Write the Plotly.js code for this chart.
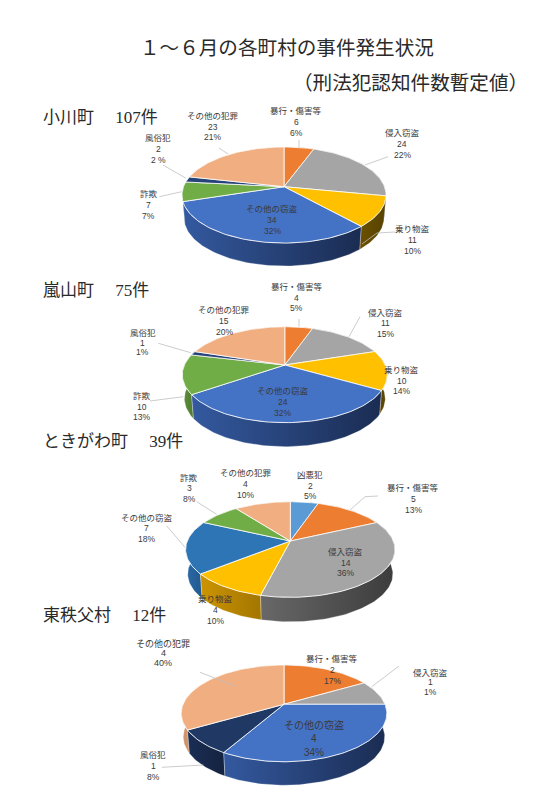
<!DOCTYPE html>
<html><head><meta charset="utf-8">
<script src="https://cdn.plot.ly/plotly-3.0.1.min.js"></script>
<style>html,body{margin:0;padding:0;background:#fff}#c{width:557px;height:800px}</style>
</head><body><div id="c"></div>
<script>
// ---- data ----
const ogawaCats = ['暴行・傷害等','侵入窃盗','乗り物盗','その他の窃盗','詐欺','風俗犯','その他の犯罪'];
const ogawaVals = [6,24,11,34,7,2,23];
const ogawaPct  = ['6%','22%','10%','32%','7%','2 %','21%'];

const ranzanCats = ['暴行・傷害等','侵入窃盗','乗り物盗','その他の窃盗','詐欺','風俗犯','その他の犯罪'];
const ranzanVals = [4,11,10,24,10,1,15];
const ranzanPct  = ['5%','15%','14%','32%','13%','1%','20%'];

const tokigawaCats = ['凶悪犯','暴行・傷害等','侵入窃盗','乗り物盗','その他の窃盗','詐欺','その他の犯罪'];
const tokigawaVals = [2,5,14,4,7,3,4];
const tokigawaPct  = ['5%','13%','36%','10%','18%','8%','10%'];

const higashiCats = ['暴行・傷害等','侵入窃盗','その他の窃盗','風俗犯','その他の犯罪'];
const higashiVals = [2,1,4,1,4];
const higashiPct  = ['17%','1%','34%','8%','40%'];

// ---- styles ----
const faceColor = {'凶悪犯':'#5B9BD5','暴行・傷害等':'#ED7D31','侵入窃盗':'#A5A5A5','乗り物盗':'#FFC000',
  'その他の窃盗':'#4472C4','詐欺':'#70AD47','風俗犯':'#264478','その他の犯罪':'#F1AF81'};
const wallColor = {'凶悪犯':['#3d6f9e','#3d6f9e'],'暴行・傷害等':['#b05a22','#b05a22'],'侵入窃盗':['#686868','#3c3c3c'],
  '乗り物盗':['#6a5000','#574200'],'その他の窃盗':['#34599f','#1a2c52'],'詐欺':['#5e9139','#4f7a30'],
  '風俗犯':['#1a2d55','#14233f'],'その他の犯罪':['#d0946a','#d0946a']};

// pie geometry on the page (perspective ellipse): apex, radii, tilt, thickness
const pies = [
 {cats:ogawaCats,vals:ogawaVals,pct:ogawaPct,px:284,py:186.7,A:100.5,B:46.6,k:.173,d:23,
  labels:[[296,122],[402,144],[412.7,240],[272,220],[148.7,205],[158,149],[212.7,126.7]],
  leaders:[[[299,140],[299,147.5]],[[388,156.7],[365,165]],[[395,232],[377,233],[362,244]],[[159.3,196.7],[181.7,191.7]],[[163,165],[186,178.3]],[[219,148],[228,154]]]},
 {cats:ranzanCats,vals:ranzanVals,pct:ranzanPct,px:284.8,py:365,A:100.4,B:46,k:.2022,d:24,
  labels:[[296.7,297.7],[385,323.3],[401.7,380.7],[282.7,402],[141.7,406.7],[142.7,342.7,9.4],[224,321]],
  leaders:[[[299,319],[299,326.7]],[[360,316.7],[349,336.7]],[[150,401],[183.3,396.7]],[[158.3,343.3],[190.7,352.7]]]},
 {cats:tokigawaCats,vals:tokigawaVals,pct:tokigawaPct,px:290.3,py:541,A:103,B:46.3,k:.178,d:24.5,
  walls:{'乗り物盗':['#cd9400','#a27600'],'その他の窃盗':['#2a6aa6','#21558a']},
  faces:{'その他の窃盗':'#2E75B6'},
  labels:[[310,485.7],[413.3,499],[345.7,562.7],[215.3,610],[146.7,528.3],[189,488.3],[245.7,484]],
  leaders:[[[378,496],[365,496.7],[350,510]],[[166.7,526],[185,547.3]],[[196.7,501.7],[216.7,514.3]]]},
 {cats:higashiCats,vals:higashiVals,pct:higashiPct,px:284,py:704.3,A:101,B:46.7,k:.187,d:23.5,
  faces:{'風俗犯':'#1F3864'},
  labels:[[332.3,670],[430,682.3,9.6],[314.3,738.5,13.5,10],[153,766,11],[163.3,653.3,10,9]],
  leaders:[[[399,666],[371.7,686.7]],[[161.7,767.3],[203.3,765]],[[200,672.3],[235,686]]]}
];

// section headings
const headingText = ['小川町　 107件','嵐山町　 75件','ときがわ町　 39件','東秩父村　 12件'];
const headingY = [117,290,441,615];

const titleMain = '１～６月の各町村の事件発生状況';
const titleSub = '（刑法犯認知件数暫定値）';

// ---- build ----
const serif = '"Liberation Serif","Noto Sans CJK JP",serif';
const sans = '"Liberation Sans","Noto Sans CJK JP",sans-serif';
const rad = Math.PI/180, SHRINK = .98;
function pt(p,deg){const s=Math.sin(deg*rad),c=Math.cos(deg*rad),w=1+p.k*c;return [p.px+p.A*s/w,p.py-p.B*c/w];}
function arc(p,a,b){const out=[],n=Math.max(2,Math.ceil((b-a)/1.5));for(let i=0;i<=n;i++)out.push(pt(p,a+(b-a)*i/n));return out;}

const walls=[],tops=[],annotations=[],shapes=[];
const textAnn=(x,y,t,size,font,color,anchor)=>annotations.push({xref:'x',yref:'y',x,y,text:t,showarrow:false,
  xanchor:anchor||'center',yanchor:'middle',font:{size,family:font,color:color||'#3a3a3a'}});

pies.forEach(p=>{
  const total=p.vals.reduce((a,b)=>a+b,0);let cum=0;const w=[];
  p.vals.forEach((v,i)=>{
    const a=cum/total*360,b=(cum+v)/total*360;cum+=v;
    const cat=p.cats[i],rim=arc(p,a,b);
    const wc=(p.walls&&p.walls[cat])||wallColor[cat];
    const lower=rim.slice().reverse().map(q=>[p.px+(q[0]-p.px)*SHRINK,q[1]+p.d]);
    const wp=rim.concat(lower);wp.push(rim[0]);
    w.push({order:Math.abs((a+b)/2-180),trace:{x:wp.map(q=>q[0]),y:wp.map(q=>q[1]),mode:'lines',fill:'toself',
      line:{color:'rgba(255,255,255,.6)',width:.5},fillgradient:{type:'horizontal',colorscale:[[0,wc[0]],[1,wc[1]]]},hoverinfo:'skip'}});
    const fp=[[p.px,p.py]].concat(rim,[[p.px,p.py]]);
    tops.push({x:fp.map(q=>q[0]),y:fp.map(q=>q[1]),mode:'lines',fill:'toself',
      fillcolor:(p.faces&&p.faces[cat])||faceColor[cat],line:{color:'#fff',width:.8},hoverinfo:'skip'});
    const L=p.labels[i],gap=L[2]||10.7,size=L[3]||8.5;
    [cat,String(v),p.pct[i]].forEach((t,j)=>textAnn(L[0],L[1]+(j-1)*gap,t,size,sans));
  });
  w.sort((a,b)=>b.order-a.order).forEach(o=>walls.push(o.trace));
  p.leaders.forEach(l=>{for(let i=0;i<l.length-1;i++)shapes.push({type:'line',xref:'x',yref:'y',x0:l[i][0],y0:l[i][1],x1:l[i+1][0],y1:l[i+1][1],line:{color:'#bfbfbf',width:.8}});});
});

textAnn(287,48,titleMain,19.6,serif,'#2a2a2a');
textAnn(410,83,titleSub,19.6,serif,'#2a2a2a');
headingText.forEach((t,i)=>textAnn(41,headingY[i],t,17,serif,'#2a2a2a','left'));

Plotly.newPlot('c',walls.concat(tops),{
  width:557,height:800,margin:{l:0,r:0,t:0,b:0},showlegend:false,
  paper_bgcolor:'#fff',plot_bgcolor:'#fff',
  xaxis:{range:[0,557],visible:false,fixedrange:true},
  yaxis:{range:[800,0],visible:false,fixedrange:true},
  annotations,shapes
},{displayModeBar:false,staticPlot:true});
</script></body></html>
